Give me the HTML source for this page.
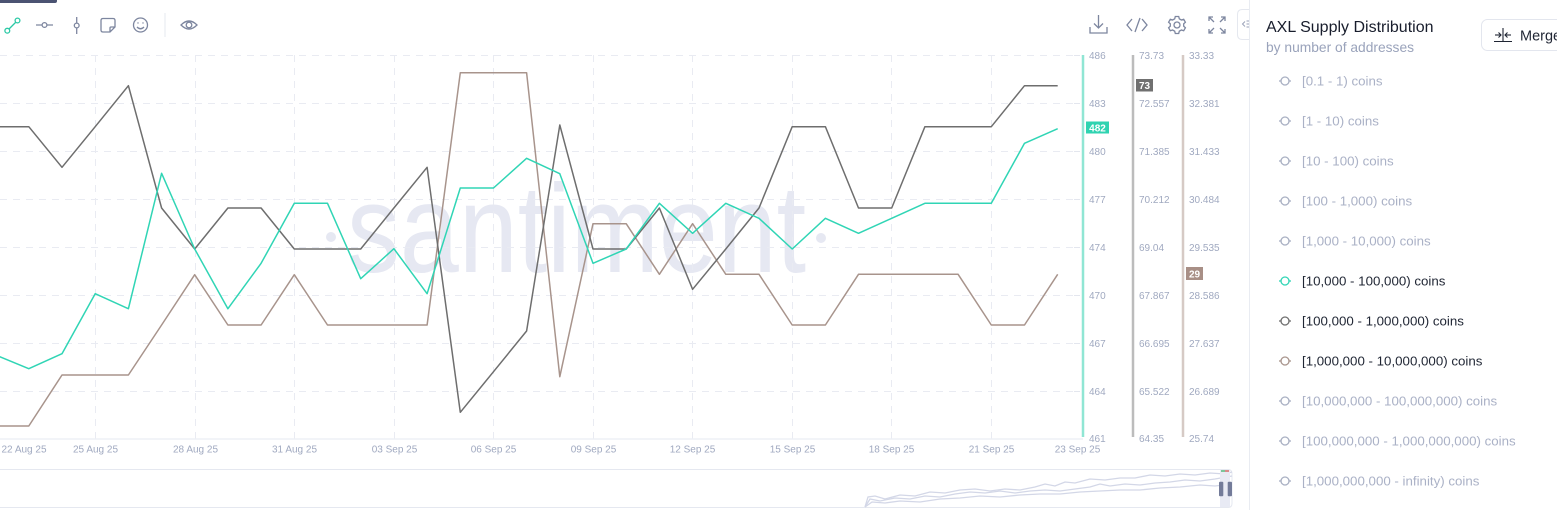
<!DOCTYPE html>
<html>
<head>
<meta charset="utf-8">
<style>
html,body{margin:0;padding:0;background:#fff;}
body{width:1557px;height:510px;overflow:hidden;position:relative;font-family:"Liberation Sans",sans-serif;}
svg{position:absolute;left:0;top:0;}
</style>
</head>
<body>
<svg width="1557" height="510" viewBox="0 0 1557 510" xmlns="http://www.w3.org/2000/svg" font-family="Liberation Sans, sans-serif">
  <!-- top-left dark tab -->
  <path d="M0 0 H57 V1 Q57 3 55 3 H0 Z" fill="#4b5372"/>

  <!-- left toolbar icons -->
  <g fill="none" stroke-width="1.3">
    <line x1="7.5" y1="30.5" x2="17.5" y2="20.5" stroke="#2cc9a6"/>
    <circle cx="7.3" cy="30.7" r="2.4" stroke="#2cc9a6" fill="#fff"/>
    <circle cx="17.5" cy="20.5" r="2.4" stroke="#2cc9a6" fill="#fff"/>
    <line x1="36" y1="25" x2="53" y2="25" stroke="#7d869f"/>
    <circle cx="44.5" cy="25" r="2.4" stroke="#7d869f" fill="#fff"/>
    <line x1="76.7" y1="17" x2="76.7" y2="34" stroke="#7d869f"/>
    <circle cx="76.7" cy="25.5" r="2.4" stroke="#7d869f" fill="#fff"/>
    <path d="M103 18.5 H113 Q115 18.5 115 20.5 V27 L110 32 H103 Q101 32 101 30 V20.5 Q101 18.5 103 18.5 Z M115 27 H111 Q110 27 110 28 V32" stroke="#7d869f"/>
    <circle cx="140.5" cy="25" r="7" stroke="#7d869f"/>
    <circle cx="138" cy="23" r="0.7" fill="#7d869f" stroke="none"/>
    <circle cx="143" cy="23" r="0.7" fill="#7d869f" stroke="none"/>
    <path d="M137 27 Q140.5 30.5 144 27" stroke="#7d869f"/>
    <line x1="165" y1="13" x2="165" y2="37" stroke="#e6e8ef" stroke-width="1"/>
    <path d="M181 25 Q189 17 197 25 Q189 33 181 25 Z" stroke="#7d869f"/>
    <circle cx="189" cy="25" r="2.8" stroke="#7d869f"/>
  </g>

  <!-- right toolbar icons -->
  <g fill="none" stroke="#7d869f" stroke-width="1.3">
    <line x1="1098.5" y1="15" x2="1098.5" y2="28"/>
    <polyline points="1094,23.5 1098.5,28 1103,23.5"/>
    <polyline points="1090,27 1090,33 1107,33 1107,27"/>
    <polyline points="1132,19 1127,25 1132,31"/>
    <line x1="1140" y1="18" x2="1135" y2="32"/>
    <polyline points="1142,19 1147,25 1142,31"/>
    <circle cx="1177" cy="25" r="3"/>
    <path d="M1175.3 16.5 h3.4 l0.6 2.3 l2.1 1.2 l2.3 -0.7 l1.7 2.9 l-1.7 1.6 v2.4 l1.7 1.6 l-1.7 2.9 l-2.3 -0.7 l-2.1 1.2 l-0.6 2.3 h-3.4 l-0.6 -2.3 l-2.1 -1.2 l-2.3 0.7 l-1.7 -2.9 l1.7 -1.6 v-2.4 l-1.7 -1.6 l1.7 -2.9 l2.3 0.7 l2.1 -1.2 Z"/>
    <path d="M1209 21 V17 H1213 M1209 17 L1214 22 M1225 21 V17 H1221 M1225 17 L1220 22 M1209 29 V33 H1213 M1209 33 L1214 28 M1225 29 V33 H1221 M1225 33 L1220 28"/>
  </g>
  <!-- panel toggle -->
  <path d="M1249.5 9.5 H1242.5 Q1237.5 9.5 1237.5 14.5 V34.5 Q1237.5 39.5 1242.5 39.5 H1249.5" fill="none" stroke="#e5e8ef"/>
  <g stroke="#9aa2b8" stroke-width="1" fill="none">
    <polyline points="1245,21.5 1242.5,24 1245,26.5"/>
    <line x1="1246.5" y1="21" x2="1250" y2="21"/>
    <line x1="1246.5" y1="24" x2="1250" y2="24"/>
    <line x1="1246.5" y1="27" x2="1250" y2="27"/>
  </g>

  <!-- watermark -->
  <text x="347" y="272" font-size="125" fill="#e6e8f2" textLength="459" lengthAdjust="spacingAndGlyphs">santiment</text>
  <circle cx="331" cy="237" r="5" fill="#e6e8f2"/>
  <circle cx="821" cy="238" r="5" fill="#e6e8f2"/>

  <!-- horizontal grid -->
  <g stroke="#e9ebf2" stroke-width="1" stroke-dasharray="7 6">
    <line x1="0" y1="55.5" x2="1074" y2="55.5"/>
    <line x1="0" y1="103.5" x2="1074" y2="103.5"/>
    <line x1="0" y1="151.5" x2="1074" y2="151.5"/>
    <line x1="0" y1="199.5" x2="1074" y2="199.5"/>
    <line x1="0" y1="247.5" x2="1074" y2="247.5"/>
    <line x1="0" y1="295.5" x2="1074" y2="295.5"/>
    <line x1="0" y1="343.5" x2="1074" y2="343.5"/>
    <line x1="0" y1="391.5" x2="1074" y2="391.5"/>
  </g>
  <!-- vertical grid -->
  <g stroke="#e9ebf2" stroke-width="1" stroke-dasharray="7 6">
    <line x1="95.5" y1="55" x2="95.5" y2="439"/>
    <line x1="195.5" y1="55" x2="195.5" y2="439"/>
    <line x1="294.5" y1="55" x2="294.5" y2="439"/>
    <line x1="394.5" y1="55" x2="394.5" y2="439"/>
    <line x1="493.5" y1="55" x2="493.5" y2="439"/>
    <line x1="593.5" y1="55" x2="593.5" y2="439"/>
    <line x1="692.5" y1="55" x2="692.5" y2="439"/>
    <line x1="792.5" y1="55" x2="792.5" y2="439"/>
    <line x1="891.5" y1="55" x2="891.5" y2="439"/>
    <line x1="991.5" y1="55" x2="991.5" y2="439"/>
  </g>
  <!-- left ticks of teal axis -->
  <g stroke="#e3e6ee" stroke-width="1">
    <line x1="1074" y1="55.5" x2="1080" y2="55.5"/>
    <line x1="1074" y1="103.5" x2="1080" y2="103.5"/>
    <line x1="1074" y1="151.5" x2="1080" y2="151.5"/>
    <line x1="1074" y1="199.5" x2="1080" y2="199.5"/>
    <line x1="1074" y1="247.5" x2="1080" y2="247.5"/>
    <line x1="1074" y1="295.5" x2="1080" y2="295.5"/>
    <line x1="1074" y1="343.5" x2="1080" y2="343.5"/>
    <line x1="1074" y1="391.5" x2="1080" y2="391.5"/>
  </g>
  <!-- x axis line -->
  <line x1="0" y1="439" x2="1083" y2="439" stroke="#eef0f5" stroke-width="1.5"/>

  <!-- series -->
  <g fill="none" stroke-width="1.5" stroke-linejoin="round">
    <polyline stroke="#a8948c" points="-4.4,426 28.8,426 62,375 95.2,375 128.4,375 161.6,325 194.7,274.7 227.9,325 261.1,325 294.3,274.7 327.5,325 360.7,325 393.9,325 427.1,325 460.3,72.7 493.5,72.7 526.6,72.7 559.8,376.7 593,223.7 626.2,223.7 659.4,274.3 692.6,223.7 725.8,274.3 759,274.3 792.2,325 825.4,325 858.5,274.3 891.7,274.3 924.9,274.3 958.1,274.3 991.3,325 1024.5,325 1057.7,274.3"/>
    <polyline stroke="#6e6e6e" points="-4.4,126.7 28.8,126.7 62,167.3 95.2,126.7 128.4,85.7 161.6,208 194.7,249 227.9,208 261.1,208 294.3,249 327.5,249 360.7,249 393.9,208 427.1,167.3 460.3,412.3 493.5,371.7 526.6,331 559.8,125 593,249 626.2,249 659.4,208 692.6,289.3 725.8,249 759,208 792.2,126.7 825.4,126.7 858.5,208 891.7,208 924.9,126.7 958.1,126.7 991.3,126.7 1024.5,85.7 1057.7,85.7"/>
    <polyline stroke="#30d5b5" points="-4.4,355 28.8,368.7 62,353.7 95.2,293.7 128.4,308.7 161.6,173.3 194.7,249 227.9,308.7 261.1,263.3 294.3,203.3 327.5,203.3 360.7,278.7 393.9,248.7 427.1,293.7 460.3,188 493.5,188 526.6,158.3 559.8,173.7 593,263.3 626.2,249 659.4,203.3 692.6,233.3 725.8,203.3 759,218.3 792.2,249 825.4,218.3 858.5,233.3 891.7,218.3 924.9,203.3 958.1,203.3 991.3,203.3 1024.5,143.3 1057.7,128.7"/>
  </g>

  <!-- y axes -->
  <line x1="1083" y1="55" x2="1083" y2="437" stroke="#90e6d4" stroke-width="2.5"/>
  <line x1="1133" y1="55" x2="1133" y2="437" stroke="#bcbcbc" stroke-width="2.5"/>
  <line x1="1183" y1="55" x2="1183" y2="437" stroke="#d6cac5" stroke-width="2.5"/>

  <g font-size="10" fill="#a0a9c0">
    <text x="1089" y="59">486</text>
    <text x="1089" y="107">483</text>
    <text x="1089" y="155">480</text>
    <text x="1089" y="203">477</text>
    <text x="1089" y="251">474</text>
    <text x="1089" y="299">470</text>
    <text x="1089" y="347">467</text>
    <text x="1089" y="395">464</text>
    <text x="1089" y="442">461</text>

    <text x="1139" y="59">73.73</text>
    <text x="1139" y="107">72.557</text>
    <text x="1139" y="155">71.385</text>
    <text x="1139" y="203">70.212</text>
    <text x="1139" y="251">69.04</text>
    <text x="1139" y="299">67.867</text>
    <text x="1139" y="347">66.695</text>
    <text x="1139" y="395">65.522</text>
    <text x="1139" y="442">64.35</text>

    <text x="1189" y="59">33.33</text>
    <text x="1189" y="107">32.381</text>
    <text x="1189" y="155">31.433</text>
    <text x="1189" y="203">30.484</text>
    <text x="1189" y="251">29.535</text>
    <text x="1189" y="299">28.586</text>
    <text x="1189" y="347">27.637</text>
    <text x="1189" y="395">26.689</text>
    <text x="1189" y="442">25.74</text>
  </g>

  <!-- badges -->
  <rect x="1086" y="121.5" width="23" height="12" fill="#2fd3b1"/>
  <text x="1097.5" y="131.5" font-size="10" font-weight="bold" fill="#fff" text-anchor="middle">482</text>
  <rect x="1136" y="79" width="17" height="12.5" fill="#707070"/>
  <text x="1144.5" y="89" font-size="10" font-weight="bold" fill="#fff" text-anchor="middle">73</text>
  <rect x="1186" y="267" width="17" height="13" fill="#a88f86"/>
  <text x="1194.5" y="277.5" font-size="10" font-weight="bold" fill="#fff" text-anchor="middle">29</text>

  <!-- x labels -->
  <g font-size="10" fill="#a0a9c0" text-anchor="middle">
    <text x="24" y="452.5">22 Aug 25</text>
    <text x="95.5" y="452.5">25 Aug 25</text>
    <text x="195.5" y="452.5">28 Aug 25</text>
    <text x="294.5" y="452.5">31 Aug 25</text>
    <text x="394.5" y="452.5">03 Sep 25</text>
    <text x="493.5" y="452.5">06 Sep 25</text>
    <text x="593.5" y="452.5">09 Sep 25</text>
    <text x="692.5" y="452.5">12 Sep 25</text>
    <text x="792.5" y="452.5">15 Sep 25</text>
    <text x="891.5" y="452.5">18 Sep 25</text>
    <text x="991.5" y="452.5">21 Sep 25</text>
    <text x="1077.5" y="452.5">23 Sep 25</text>
  </g>

  <!-- navigator -->
  <path d="M-5 469.5 H1228 Q1232 469.5 1232 473.5 V503.5 Q1232 507.5 1228 507.5 H-5" fill="#fff" stroke="#e5e8f0"/>
  <g fill="none" stroke="#d3d7e7" stroke-width="1.3">
    <polyline points="865,507 868,497 875,496 885,499 900,495 915,496 930,492 945,493 960,490 975,489 990,491 1005,489 1020,490 1035,487 1045,484 1055,486 1065,482 1075,483 1090,479 1105,480 1120,478 1135,478 1150,475 1165,476 1180,474 1195,475 1210,473 1225,474 1232,472"/>
    <polyline points="865,507 870,499 880,501 895,498 910,499 925,496 940,497 955,494 970,492 985,493 1000,491 1015,493 1030,491 1045,490 1060,491 1075,489 1090,487 1100,484 1110,486 1125,484 1140,485 1155,483 1170,482 1185,480 1200,481 1215,479 1232,476"/>
    <polyline points="865,507 872,502 885,503 900,501 920,502 940,499 960,498 980,496 1000,497 1020,495 1040,494 1060,494 1080,492 1100,491 1120,490 1140,490 1160,488 1180,487 1200,485 1215,486 1232,484"/>
  </g>
  <rect x="1220" y="470" width="10" height="37" fill="#e8eaf4"/>
  <rect x="1221" y="470" width="4" height="2" fill="#7bc59a"/>
  <rect x="1225" y="470" width="4" height="2" fill="#d88b8b"/>
  <rect x="1219" y="481.7" width="4.3" height="14.5" rx="1" fill="#737b99"/>
  <rect x="1227.7" y="481.7" width="4.3" height="14.5" rx="1" fill="#737b99"/>

  <!-- panel divider -->
  <line x1="1249.5" y1="0" x2="1249.5" y2="510" stroke="#e9ecf2" stroke-width="1"/>

  <!-- legend panel -->
  <text x="1266" y="32" font-size="16" fill="#181d2c">AXL Supply Distribution</text>
  <text x="1266" y="52" font-size="13.8" fill="#9aa3bb">by number of addresses</text>

  <rect x="1481.5" y="19.5" width="100" height="31" rx="6" fill="#fff" stroke="#e3e6ee"/>
  <g stroke="#1f2533" stroke-width="1.1" fill="none">
    <line x1="1503" y1="28" x2="1503" y2="42"/>
    <line x1="1495" y1="35" x2="1501" y2="35"/>
    <polyline points="1498.5,32.5 1501,35 1498.5,37.5"/>
    <line x1="1505" y1="35" x2="1511" y2="35"/>
    <polyline points="1507.5,32.5 1505,35 1507.5,37.5"/>
    <line x1="1494" y1="41.5" x2="1512" y2="41.5"/>
  </g>
  <text x="1520" y="40.5" font-size="14.5" fill="#1f2533">Merge</text>

  <g font-size="13.3">
    <g fill="none" stroke-width="1.3">
      <g stroke="#a8afc2">
        <circle cx="1285" cy="81" r="4"/><line x1="1279" y1="81" x2="1281" y2="81"/><line x1="1289" y1="81" x2="1291" y2="81"/>
        <circle cx="1285" cy="121" r="4"/><line x1="1279" y1="121" x2="1281" y2="121"/><line x1="1289" y1="121" x2="1291" y2="121"/>
        <circle cx="1285" cy="161" r="4"/><line x1="1279" y1="161" x2="1281" y2="161"/><line x1="1289" y1="161" x2="1291" y2="161"/>
        <circle cx="1285" cy="201" r="4"/><line x1="1279" y1="201" x2="1281" y2="201"/><line x1="1289" y1="201" x2="1291" y2="201"/>
        <circle cx="1285" cy="241" r="4"/><line x1="1279" y1="241" x2="1281" y2="241"/><line x1="1289" y1="241" x2="1291" y2="241"/>
        <circle cx="1285" cy="401" r="4"/><line x1="1279" y1="401" x2="1281" y2="401"/><line x1="1289" y1="401" x2="1291" y2="401"/>
        <circle cx="1285" cy="441" r="4"/><line x1="1279" y1="441" x2="1281" y2="441"/><line x1="1289" y1="441" x2="1291" y2="441"/>
        <circle cx="1285" cy="481" r="4"/><line x1="1279" y1="481" x2="1281" y2="481"/><line x1="1289" y1="481" x2="1291" y2="481"/>
      </g>
      <g stroke="#30d5b5">
        <circle cx="1285" cy="281" r="4"/><line x1="1279" y1="281" x2="1281" y2="281"/><line x1="1289" y1="281" x2="1291" y2="281"/>
      </g>
      <g stroke="#6e6e6e">
        <circle cx="1285" cy="321" r="4"/><line x1="1279" y1="321" x2="1281" y2="321"/><line x1="1289" y1="321" x2="1291" y2="321"/>
      </g>
      <g stroke="#a8948c">
        <circle cx="1285" cy="361" r="4"/><line x1="1279" y1="361" x2="1281" y2="361"/><line x1="1289" y1="361" x2="1291" y2="361"/>
      </g>
    </g>
    <g fill="#aab1c6">
      <text x="1302" y="85.5">[0.1 - 1) coins</text>
      <text x="1302" y="125.5">[1 - 10) coins</text>
      <text x="1302" y="165.5">[10 - 100) coins</text>
      <text x="1302" y="205.5">[100 - 1,000) coins</text>
      <text x="1302" y="245.5">[1,000 - 10,000) coins</text>
      <text x="1302" y="405.5">[10,000,000 - 100,000,000) coins</text>
      <text x="1302" y="445.5">[100,000,000 - 1,000,000,000) coins</text>
      <text x="1302" y="485.5">[1,000,000,000 - infinity) coins</text>
    </g>
    <g fill="#1f2533">
      <text x="1302" y="285.5">[10,000 - 100,000) coins</text>
      <text x="1302" y="325.5">[100,000 - 1,000,000) coins</text>
      <text x="1302" y="365.5">[1,000,000 - 10,000,000) coins</text>
    </g>
  </g>
</svg>
</body>
</html>
